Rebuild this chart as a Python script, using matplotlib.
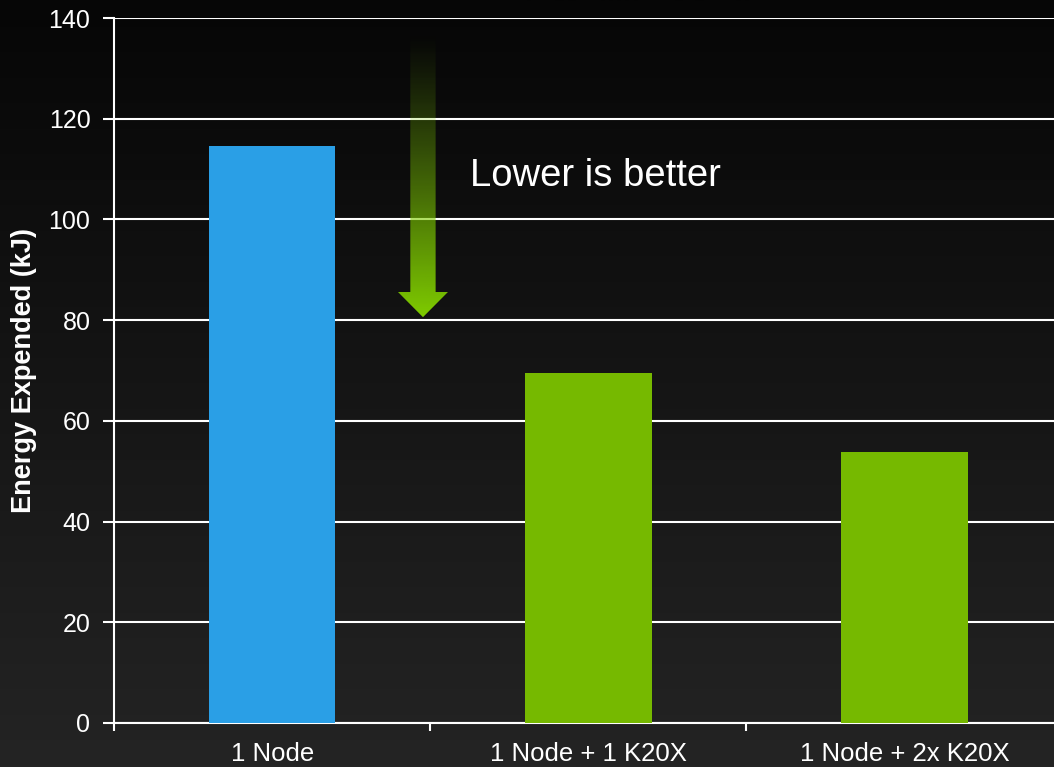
import numpy as np
import matplotlib
matplotlib.use("Agg")
import matplotlib.pyplot as plt
from matplotlib.patches import Polygon

plt.rcParams['font.family'] = ['Liberation Sans', 'DejaVu Sans']

categories = ["1 Node", "1 Node + 1 K20X", "1 Node + 2x K20X"]
energy = [114.5, 69.5, 53.8]
bar_colors = ["#2A9FE6", "#76B900", "#76B900"]
y_ticks = [0, 20, 40, 60, 80, 100, 120, 140]

fig = plt.figure(figsize=(10.54, 7.67), dpi=100)

# background gradient, dark at top, lighter at bottom
bg = fig.add_axes([0, 0, 1, 1], zorder=-10)
grad = np.linspace(0, 1, 256).reshape(-1, 1)
bg.imshow(grad, aspect="auto", extent=[0, 1, 0, 1], origin="upper",
          cmap=matplotlib.colors.LinearSegmentedColormap.from_list("bg", ["#060606", "#242424"]))
bg.axis("off")

ax = fig.add_axes([0.1082, 0.0574, 0.9, 0.919])
ax.patch.set_alpha(0)
x = np.arange(len(categories))
ax.bar(x, energy, width=0.4, color=bar_colors, zorder=3)

ax.set_xlim(-0.5, 2.5)
ax.set_ylim(0, 140)
ax.set_yticks(y_ticks)
ax.set_xticks(x)
ax.set_xticklabels(categories)
ax.set_xticks([-0.5, 0.5, 1.5], minor=True)
ax.tick_params(axis="x", which="major", length=0, pad=14, labelsize=18.5, colors="white")
ax.tick_params(axis="x", which="minor", length=6, width=1.5, color="white")
ax.tick_params(axis="y", length=8, width=1.5, colors="white", labelsize=18, pad=9)
ax.yaxis.grid(True, color="white", linewidth=1.5, zorder=1)
ax.set_axisbelow(True)
for s in ["top", "right"]:
    ax.spines[s].set_visible(False)
for s in ["left", "bottom"]:
    ax.spines[s].set_color("white")
    ax.spines[s].set_linewidth(1.5)
ax.set_ylabel("Energy Expended (kJ)", color="white", fontsize=19.5, fontweight="bold", labelpad=8)

# "lower is better" arrow with fading gradient
cx = 0.477
shaft_w, head_w = 0.04, 0.079
top, head_base, tip = 137, 85.6, 80.6
arrow = Polygon([(cx - shaft_w, top), (cx + shaft_w, top), (cx + shaft_w, head_base),
                 (cx + head_w, head_base), (cx, tip), (cx - head_w, head_base),
                 (cx - shaft_w, head_base)], closed=True, facecolor="none", edgecolor="none")
ax.add_patch(arrow)
g = np.zeros((256, 1, 4))
g[:, 0, 0] = 0.50
g[:, 0, 1] = 0.80
g[:, 0, 2] = 0.0
g[:, 0, 3] = np.linspace(0, 1, 256) ** 1.2
im = ax.imshow(g, aspect="auto", extent=[cx - head_w, cx + head_w, tip, top],
               origin="upper", zorder=4)
im.set_clip_path(arrow)
ax.set_xlim(-0.5, 2.5)
ax.set_ylim(0, 140)

ax.text(0.625, 108.6, "Lower is better", color="white", fontsize=27.5, va="center", ha="left")

plt.savefig("out.png", dpi=100)
